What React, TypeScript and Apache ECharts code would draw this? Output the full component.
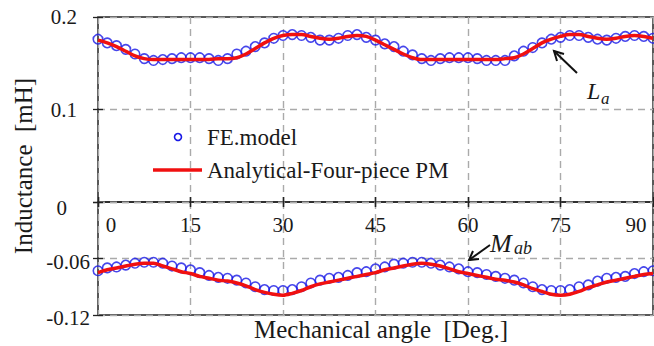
import React, { useEffect, useRef } from "react";
import * as echarts from "echarts";

const angles = [
  0, 1.5, 3, 4.5, 6, 7.5, 9, 10.5, 12, 13.5, 15, 16.5, 18, 19.5, 21, 22.5, 24, 25.5, 27, 28.5,
  30, 31.5, 33, 34.5, 36, 37.5, 39, 40.5, 42, 43.5, 45, 46.5, 48, 49.5, 51, 52.5, 54, 55.5, 57, 58.5,
  60, 61.5, 63, 64.5, 66, 67.5, 69, 70.5, 72, 73.5, 75, 76.5, 78, 79.5, 81, 82.5, 84, 85.5, 87, 88.5, 90,
];

const feLa = [
  0.176, 0.172, 0.169, 0.165, 0.16, 0.155, 0.153, 0.154, 0.155, 0.156,
  0.156, 0.156, 0.155, 0.153, 0.155, 0.16, 0.163, 0.168, 0.172, 0.177,
  0.18, 0.181, 0.18, 0.178, 0.175, 0.175, 0.177, 0.18, 0.181, 0.178,
  0.175, 0.171, 0.168, 0.163, 0.159, 0.155, 0.153, 0.155, 0.156, 0.156,
  0.156, 0.155, 0.153, 0.153, 0.153, 0.158, 0.163, 0.167, 0.172, 0.176,
  0.178, 0.18, 0.18, 0.178, 0.176, 0.175, 0.177, 0.179, 0.18, 0.179, 0.177,
];

const anLa = [
  0.175, 0.172, 0.168, 0.163, 0.158, 0.155, 0.154, 0.154, 0.154, 0.154,
  0.154, 0.154, 0.154, 0.155, 0.155, 0.156, 0.16, 0.166, 0.172, 0.177,
  0.18, 0.181, 0.181, 0.179, 0.177, 0.176, 0.177, 0.179, 0.18, 0.179,
  0.175, 0.17, 0.165, 0.16, 0.156, 0.154, 0.154, 0.154, 0.154, 0.154,
  0.154, 0.154, 0.154, 0.154, 0.155, 0.156, 0.16, 0.166, 0.172, 0.176,
  0.179, 0.181, 0.181, 0.179, 0.177, 0.176, 0.177, 0.179, 0.18, 0.179, 0.177,
];

const feMab = [
  -0.073, -0.07, -0.069, -0.067, -0.065, -0.064, -0.064, -0.065, -0.068, -0.07,
  -0.072, -0.075, -0.078, -0.08, -0.081, -0.083, -0.086, -0.09, -0.093, -0.094,
  -0.094, -0.093, -0.09, -0.086, -0.083, -0.081, -0.08, -0.078, -0.075, -0.074,
  -0.071, -0.069, -0.066, -0.065, -0.064, -0.064, -0.065, -0.067, -0.069, -0.071,
  -0.074, -0.075, -0.077, -0.079, -0.081, -0.083, -0.086, -0.09, -0.093, -0.094,
  -0.094, -0.093, -0.09, -0.088, -0.084, -0.081, -0.08, -0.079, -0.076, -0.074, -0.073,
];

const anMab = [
  -0.075, -0.072, -0.07, -0.068, -0.066, -0.065, -0.065, -0.068, -0.071, -0.074,
  -0.076, -0.079, -0.081, -0.083, -0.084, -0.086, -0.089, -0.093, -0.096, -0.098,
  -0.099, -0.097, -0.094, -0.09, -0.087, -0.085, -0.083, -0.081, -0.079, -0.077,
  -0.075, -0.072, -0.07, -0.068, -0.066, -0.065, -0.066, -0.068, -0.071, -0.074,
  -0.076, -0.078, -0.08, -0.082, -0.083, -0.085, -0.088, -0.092, -0.095, -0.098,
  -0.099, -0.098, -0.095, -0.091, -0.088, -0.085, -0.083, -0.081, -0.079, -0.077, -0.076,
];

const FONT = "Liberation Serif";
const TXT = "#1a1a1a";
const BLUE = "#1818e6";
const RED = "#f01010";
const GRIDC = "#aaaaaa";

const zip = (ys: number[]) => angles.map((a, i) => [a, ys[i]]);

export default function App() {
  const ref = useRef<HTMLDivElement>(null);
  useEffect(() => {
    if (!ref.current) return;
    const chart = echarts.init(ref.current, null, { renderer: "svg" });
    const split = { show: true, lineStyle: { color: GRIDC, type: [7, 5] as any, width: 1.4 } };
    const tick = { show: true, inside: true, length: 5, lineStyle: { color: "#222", width: 1.3 } };
    const lbl = { fontFamily: FONT, fontSize: 21, color: TXT };
    chart.setOption({
      animation: false,
      textStyle: { fontFamily: FONT },
      grid: [
        { left: 98, top: 17, width: 555, height: 185, show: true, borderColor: "#222", borderWidth: 1.5, backgroundColor: "transparent" },
        { left: 98, top: 202, width: 555, height: 113, show: true, borderColor: "#222", borderWidth: 1.5, backgroundColor: "transparent" },
      ],
      xAxis: [
        { gridIndex: 0, type: "value", min: 0, max: 90, interval: 15, position: "bottom", axisLine: { show: false }, axisTick: tick, axisLabel: { show: false }, splitLine: split },
        { gridIndex: 0, type: "value", min: 0, max: 90, interval: 15, position: "top", axisLine: { show: false }, axisTick: tick, axisLabel: { show: false }, splitLine: { show: false } },
        {
          gridIndex: 1, type: "value", min: 0, max: 90, interval: 15, position: "top", axisLine: { show: false }, axisTick: tick, splitLine: split,
          axisLabel: {
            ...lbl, inside: true, margin: 12,
            formatter: (v: number) => (v === 0 ? "{l|0}" : v === 90 ? "{r|90}" : String(v)),
            rich: {
              l: { ...lbl, padding: [0, 0, 0, 26] },
              r: { ...lbl, padding: [0, 34, 0, 0] },
            },
          },
        },
        { gridIndex: 1, type: "value", min: 0, max: 90, interval: 15, position: "bottom", axisLine: { show: false }, axisTick: tick, axisLabel: { show: false }, splitLine: { show: false } },
      ],
      yAxis: [
        { gridIndex: 0, type: "value", min: 0, max: 0.2, interval: 0.1, position: "left", axisLine: { show: false }, axisTick: tick, splitLine: split, axisLabel: { ...lbl, margin: 21, showMinLabel: false, padding: [6, 0, 0, 0] } },
        { gridIndex: 0, type: "value", min: 0, max: 0.2, interval: 0.1, position: "right", axisLine: { show: false }, axisTick: tick, splitLine: { show: false }, axisLabel: { show: false } },
        {
          gridIndex: 1, type: "value", min: -0.12, max: 0, interval: 0.06, position: "left", axisLine: { show: false }, axisTick: tick, splitLine: split,
          axisLabel: {
            ...lbl, margin: 8, padding: [6, 0, 0, 0],
            formatter: (v: number) => (v === 0 ? "{z|0}" : String(v)),
            rich: { z: { ...lbl, padding: [6, 23, 0, 0] } },
          },
        },
        { gridIndex: 1, type: "value", min: -0.12, max: 0, interval: 0.06, position: "right", axisLine: { show: false }, axisTick: tick, splitLine: { show: false }, axisLabel: { show: false } },
      ],
      series: [
        {
          name: "FE.model", type: "scatter", xAxisIndex: 0, yAxisIndex: 0, data: zip(feLa),
          symbol: "circle", symbolSize: 9.5,
          itemStyle: { color: "rgba(0,0,0,0)", borderColor: BLUE, borderWidth: 1.6 },
        },
        {
          name: "Analytical-Four-piece PM", type: "line", xAxisIndex: 0, yAxisIndex: 0, data: zip(anLa),
          showSymbol: false, smooth: 0.3, lineStyle: { color: RED, width: 3.5 }, z: 3,
        },
        {
          name: "FE.model", type: "scatter", xAxisIndex: 2, yAxisIndex: 2, data: zip(feMab),
          symbol: "circle", symbolSize: 9.5,
          itemStyle: { color: "rgba(0,0,0,0)", borderColor: BLUE, borderWidth: 1.6 },
        },
        {
          name: "Analytical-Four-piece PM", type: "line", xAxisIndex: 2, yAxisIndex: 2, data: zip(anMab),
          showSymbol: false, smooth: 0.3, lineStyle: { color: RED, width: 3.5 }, z: 3,
        },
      ],
      graphic: [
        { type: "circle", shape: { cx: 178, cy: 137, r: 3.5 }, style: { fill: "none", stroke: BLUE, lineWidth: 1.6 }, z: 10 },
        { type: "text", x: 207, y: 137, style: { text: "FE.model", fontFamily: FONT, fontSize: 23, fill: TXT, verticalAlign: "middle", align: "left" }, z: 10 },
        { type: "line", shape: { x1: 153, y1: 170, x2: 202, y2: 170 }, style: { stroke: RED, lineWidth: 3.5 }, z: 10 },
        { type: "text", x: 207, y: 170, style: { text: "Analytical-Four-piece PM", fontFamily: FONT, fontSize: 23, fill: TXT, verticalAlign: "middle", align: "left" }, z: 10 },
        { type: "text", x: 23, y: 166, rotation: Math.PI / 2, style: { text: "Inductance  [mH]", fontFamily: FONT, fontSize: 25, fill: TXT, align: "center", verticalAlign: "middle" }, z: 10 },
        { type: "text", x: 381, y: 329, style: { text: "Mechanical angle  [Deg.]", fontFamily: FONT, fontSize: 25, fill: TXT, align: "center", verticalAlign: "middle" }, z: 10 },
        { type: "line", shape: { x1: 577, y1: 73, x2: 554, y2: 51 }, style: { stroke: "#111", lineWidth: 2 }, z: 10 },
        { type: "polyline", shape: { points: [[557, 61], [554, 51], [564, 54]] }, style: { stroke: "#111", lineWidth: 2, fill: "none" }, z: 10 },
        { type: "text", x: 587, y: 91, style: { text: "L", fontFamily: FONT, fontStyle: "italic", fontSize: 24, fill: TXT, verticalAlign: "middle", align: "left" }, z: 10 },
        { type: "text", x: 601, y: 98, style: { text: "a", fontFamily: FONT, fontStyle: "italic", fontSize: 17, fill: TXT, verticalAlign: "middle", align: "left" }, z: 10 },
        { type: "line", shape: { x1: 490, y1: 245, x2: 469, y2: 260 }, style: { stroke: "#111", lineWidth: 2 }, z: 10 },
        { type: "polyline", shape: { points: [[479, 259], [469, 260], [473, 251]] }, style: { stroke: "#111", lineWidth: 2, fill: "none" }, z: 10 },
        { type: "text", x: 490, y: 243, style: { text: "M", fontFamily: FONT, fontStyle: "italic", fontSize: 26, fill: TXT, verticalAlign: "middle", align: "left" }, z: 10 },
        { type: "text", x: 514, y: 248, style: { text: "ab", fontFamily: FONT, fontStyle: "italic", fontSize: 18, fill: TXT, verticalAlign: "middle", align: "left" }, z: 10 },
      ],
    });
    return () => chart.dispose();
  }, []);
  return (
    <div
      ref={ref}
      style={{ position: "absolute", left: 0, top: 0, width: 654, height: 346, background: "#fff" }}
    />
  );
}
